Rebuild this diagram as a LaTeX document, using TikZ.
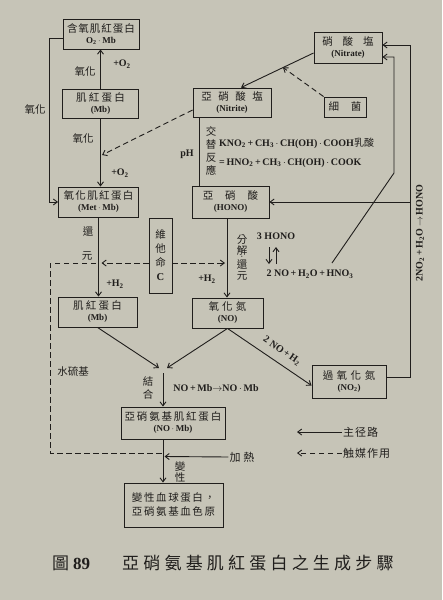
\documentclass[tikz,border=0pt]{standalone}
\usepackage{fontspec}
\setmainfont{Liberation Serif}
\newfontfamily\cjk{Noto Sans CJK TC}
\usetikzlibrary{arrows.meta}
\definecolor{paper}{RGB}{198,196,183}
\definecolor{ink}{RGB}{32,30,28}
\makeatletter
\def\ls@gap{0pt}
\newcommand\lsp[2]{\def\ls@gap{#1}\ls@loop#2\@nil}
\def\ls@loop#1#2\@nil{#1\ifx\relax#2\relax\else\hspace{\ls@gap}\ls@loop#2\@nil\fi}
\makeatother
\newcommand\zh[1]{{\mdseries\cjk #1}}
\newcommand\sub[1]{\textsubscript{#1}}
\newcommand\dt{\,$\cdot$\,}
\newcommand\bl[3]{{\mdseries\cjk\fontsize{10.5}{11}\selectfont\lsp{#1}{#2}}\\[0pt]{\bfseries\fontsize{9}{9}\selectfont #3}}
\begin{document}
\begin{tikzpicture}[x=1pt,y=-1pt,
  every node/.style={text=ink, inner sep=1pt, font=\bfseries\fontsize{10}{11}\selectfont},
  box/.style={draw=ink, line width=0.9pt, align=center, inner sep=0pt},
  arr/.style={draw=ink, line width=0.9pt, -{Straight Barb[length=4pt,width=6pt]}},
  ln/.style={draw=ink, line width=0.9pt},
  dsh/.style={dash pattern=on 5.5pt off 3.5pt},
  zlab/.style={font=\mdseries\cjk\fontsize{10.5}{12}\selectfont, align=center},
  vlab/.style={font=\mdseries\cjk\fontsize{10.5}{13}\selectfont, align=center, inner sep=0pt}]
\fill[paper] (0,0) rectangle (442,600);
\useasboundingbox (0,0) rectangle (442,600);

% boxes
\node[box, minimum width=76, minimum height=30] (oxmb) at (101,34) {\bl{1pt}{含氧肌紅蛋白}{O\sub{2}\dt Mb}};
\node[box, minimum width=76, minimum height=29] (mb1) at (100.5,103.5) {\bl{2.3pt}{肌紅蛋白}{(Mb)}};
\node[box, minimum width=80, minimum height=30] (metmb) at (98.5,202) {\bl{1.4pt}{氧化肌紅蛋白}{(Met\dt Mb)}};
\node[box, minimum width=79, minimum height=30] (mb2) at (97.5,312) {\bl{2.3pt}{肌紅蛋白}{(Mb)}};
\node[box, minimum width=78, minimum height=29] (nitrite) at (232,102.5) {\bl{6.5pt}{亞硝酸塩}{(Nitrite)}};
\node[box, minimum width=68, minimum height=31] (nitrate) at (348,47.5) {\bl{10pt}{硝酸塩}{(Nitrate)}};
\node[box, minimum width=42, minimum height=20, font=\mdseries\cjk\fontsize{10.5}{11}\selectfont] (bact) at (345,107) {\lsp{12pt}{細菌}};
\node[box, minimum width=77, minimum height=32] (hono) at (230.5,202) {\bl{12pt}{亞硝酸}{(HONO)}};
\node[box, minimum width=23, minimum height=75, font=\mdseries\cjk\fontsize{10.5}{14}\selectfont] (vitc) at (160.5,255.5) {維\\他\\命\\{\rmfamily\bfseries C}};
\node[box, minimum width=71, minimum height=30] (no) at (227.5,313) {\bl{3.2pt}{氧化氮}{(NO)}};
\node[box, minimum width=74, minimum height=33] (no2) at (349,381.5) {\bl{3.5pt}{過氧化氮}{(NO\sub{2})}};
\node[box, minimum width=104, minimum height=32] (nomb) at (173,423) {\bl{1.8pt}{亞硝氨基肌紅蛋白}{(NO\dt Mb)}};
\node[box, minimum width=99, minimum height=44, font=\mdseries\cjk\fontsize{10.5}{14}\selectfont] (final) at (173.5,505) {\lsp{1.6pt}{變性血球蛋白，}\\\lsp{1.6pt}{亞硝氨基血色原}};

% coordinates
\coordinate (c1) at (102,155);
\coordinate (r1) at (101.5,263);
\coordinate (r2) at (225,263);
\coordinate (dL0) at (96,263);
\coordinate (dL1) at (50,263);
\coordinate (dL2) at (50,453);
\coordinate (dL3) at (162,453);
\coordinate (bl) at (283,67.5);
\coordinate (v1) at (199,150);
\coordinate (v2) at (227,250);
\coordinate (d1) at (332,263);
\coordinate (d2) at (394,173);
\coordinate (o1) at (410,45);
\coordinate (o2) at (410,202);
\coordinate (mL) at (159,368);
\coordinate (mR) at (167,368);
\coordinate (m0) at (163,373);
\coordinate (h1) at (164.5,456.5);
\coordinate (e1) at (269,247);
\coordinate (e2) at (269,264);
\coordinate (e3) at (276,264);
\coordinate (e4) at (276,247);
\coordinate (lg1) at (297,432);
\coordinate (lg2) at (297,453);

% main connectors (left column)
\draw[arr] (mb1.north) -- (mb1.north |- oxmb.south);
\draw[arr] (mb1.south) -- (mb1.south |- metmb.north);
\draw[arr] ([yshift=-4pt]oxmb.west) -- ++(-13,0) |- (metmb.west);
\draw[arr, dsh] ([yshift=-7.5pt]nitrite.west) -- (c1);
\draw[arr] (metmb.south) -- (metmb.south |- mb2.north);

% vitamin C and catalysts
\draw[arr, dsh] (vitc.west |- r1) -- (r1);
\draw[arr, dsh] (vitc.east |- r2) -- (r2);
\draw[ln, dsh] (dL0) -- (dL1) -- (dL2) -- (dL3);

% right column
\draw[arr] ([yshift=-5.5pt]nitrate.west) -- ([xshift=9pt]nitrite.north);
\draw[arr, dsh] (bact.north west) -- (bl);
\draw[ln] (nitrite.south -| v1) -- (hono.north -| v1);
\draw[arr] (hono.south -| v2) -- (no.north -| v2);
\draw[arr] (d1) -- (d2) |- ([yshift=-9.5pt]nitrate.east);
\draw[arr] ([yshift=4pt]no2.east) -| (o1) -- (nitrate.east |- o1);
\draw[arr] (o2) -- (hono.east);
\draw[arr] (no.south) -- ([yshift=-4pt]no2.west);
\draw[arr] (e1) -- (e2);
\draw[arr] (e3) -- (e4);

% merging
\draw[arr] (mb2.south) -- (mL);
\draw[arr] (no.south) -- (mR);
\draw[arr] (m0) -- (m0 |- nomb.north);
\draw[arr] (nomb.south -| m0) -- (final.north -| m0);

% heating
\node[zlab, font=\mdseries\cjk\fontsize{11}{12}\selectfont] (heat) at (242,457) {\lsp{3pt}{加熱}};
\draw[arr] (heat.west) -- (h1);

% labels
\node[zlab] (l1) at (85,72) {氧化};
\node (l2) at (122,64) {+O\sub{2}};
\node[zlab] (l3) at (83,139) {氧化};
\node (l4) at (120,173) {+O\sub{2}};
\node[zlab] (l5) at (35,110) {氧化};
\node[zlab] (l6) at (88,232) {還};
\node[zlab] (l7) at (87,256) {元};
\node (l8) at (115,284) {+H\sub{2}};
\node[zlab] (l9) at (73,372) {水硫基};
\node (l10) at (187,154) {pH};
\node[vlab] (l11) at (211,151) {交\\替\\反\\應};
\node[anchor=west, inner sep=0pt] (l12) at (219,143) {KNO\sub{2}\,+\,CH\sub{3}\dt CH(OH)\dt COOH\zh{乳酸}};
\node[anchor=west, inner sep=0pt] (l13) at (219,163) {=\,HNO\sub{2}\,+\,CH\sub{3}\dt CH(OH)\dt COOK};
\node[vlab, font=\mdseries\cjk\fontsize{10.5}{12.5}\selectfont] (l14) at (242,258) {分\\[-2pt]解\\[-7pt]$\cdot$\\[-4pt]還\\[-1pt]元};
\node (l15) at (207,279) {+H\sub{2}};
\node (l16) at (276,236) {3 HONO};
\node (l17) at (310,274) {2 NO\,+\,H\sub{2}O\,+\,HNO\sub{3}};
\node[rotate=-34.6] (l18) at (282,351) {2 NO\,+\,H\sub{2}};
\node[rotate=90, font=\bfseries\fontsize{10}{11}\selectfont] (l19) at (420,233) {2NO\sub{2}\,+\,H\sub{2}O\,$\rightarrow$\,HONO};
\node[vlab] (l20) at (148,388) {結\\合};
\node (l21) at (216,388) {NO\,+\,Mb$\rightarrow$NO\dt Mb};
\node[vlab, font=\mdseries\cjk\fontsize{10.5}{11.5}\selectfont] (l22) at (180,472) {變\\性};

% legend
\node[zlab, font=\mdseries\cjk\fontsize{11}{12}\selectfont, anchor=west] (leg1) at (342,432) {\lsp{1pt}{主径路}};
\node[zlab, font=\mdseries\cjk\fontsize{11}{12}\selectfont, anchor=west] (leg2) at (342,453) {\lsp{1pt}{触媒作用}};
\draw[arr] (leg1.west) -- (lg1);
\draw[arr, dsh] (leg2.west) -- (lg2);

% caption
\node[anchor=west, font=\mdseries\cjk\fontsize{17}{18}\selectfont] (cap1) at (51,563) {圖\hspace{4pt}{\rmfamily\bfseries 89}};
\node[anchor=west, font=\mdseries\cjk\fontsize{17}{18}\selectfont] (cap2) at (121,563) {\lsp{4.2pt}{亞硝氨基肌紅蛋白之生成步驟}};
\end{tikzpicture}
\end{document}
